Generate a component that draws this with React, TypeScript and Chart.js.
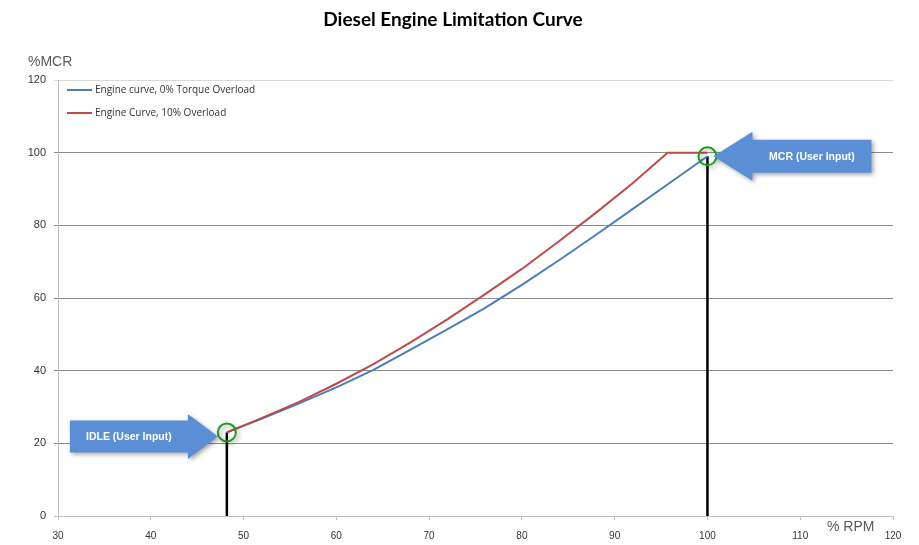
import React, { useEffect, useRef } from "react";
import { Chart, registerables } from "chart.js";

Chart.register(...registerables);

const TITLE = "Diesel Engine Limitation Curve";
const X_TITLE = "% RPM";
const Y_TITLE = "%MCR";
const SERIES_NAMES = ["Engine curve, 0% Torque Overload", "Engine Curve, 10% Overload"];
const SERIES_COLORS = ["#4a7ebb", "#be4b48"];

const BASE_RPM = [48.2, 52, 56, 60, 64, 68, 72, 76, 80, 84, 88, 92, 96, 100];
const BASE_LOAD = [23, 26.8, 31, 35.4, 40.2, 45.8, 51.4, 57.2, 63.6, 70.4, 77.4, 84.6, 91.8, 99];
const OVER_RPM = [48.2, 52, 56, 60, 64, 68, 72, 76, 80, 84, 88, 92, 95.7, 100];
const OVER_LOAD = [23, 27, 31.4, 36.4, 41.8, 47.8, 54.2, 61, 68, 75.6, 83.5, 91.7, 100, 100];

const IDLE_POINT = [48.2, 23];
const MCR_POINT = [100, 99];
const MARKER_LABELS = ["IDLE (User Input)", "MCR (User Input)"];

const X_MIN = 30;
const X_MAX = 120;
const X_STEP = 10;
const Y_MIN = 0;
const Y_MAX = 120;
const Y_STEP = 20;

const toXY = (xs: number[], ys: number[]) => xs.map((x, i) => ({ x, y: ys[i] }));

function drawArrow(
  ctx: CanvasRenderingContext2D,
  tipX: number,
  tipY: number,
  dir: number,
  length: number,
  headLen: number,
  bodyHalf: number,
  headHalf: number,
  label: string
) {
  const baseX = tipX - dir * length;
  const headBaseX = tipX - dir * headLen;
  ctx.save();
  ctx.shadowColor = "rgba(0,0,0,0.35)";
  ctx.shadowBlur = 4;
  ctx.shadowOffsetX = 2;
  ctx.shadowOffsetY = 2;
  ctx.fillStyle = "#5a8fd5";
  ctx.beginPath();
  ctx.moveTo(baseX, tipY - bodyHalf);
  ctx.lineTo(headBaseX, tipY - bodyHalf);
  ctx.lineTo(headBaseX, tipY - headHalf);
  ctx.lineTo(tipX, tipY);
  ctx.lineTo(headBaseX, tipY + headHalf);
  ctx.lineTo(headBaseX, tipY + bodyHalf);
  ctx.lineTo(baseX, tipY + bodyHalf);
  ctx.closePath();
  ctx.fill();
  ctx.restore();
  ctx.save();
  ctx.fillStyle = "#ffffff";
  ctx.font = "bold 10.5px 'Liberation Sans', Arial, sans-serif";
  ctx.textAlign = "center";
  ctx.textBaseline = "middle";
  ctx.fillText(label, (baseX + headBaseX) / 2, tipY + 1);
  ctx.restore();
}

const decorPlugin = {
  id: "decor",
  beforeDatasetDraw(chart: any, args: any) {
    if (args.meta && args.meta._dataset && args.meta._dataset.isMarker) {
      const ctx = chart.ctx;
      ctx.save();
      ctx.shadowColor = "rgba(0,0,0,0.35)";
      ctx.shadowBlur = 4;
      ctx.shadowOffsetX = 2;
      ctx.shadowOffsetY = 2;
    }
  },
  afterDatasetDraw(chart: any, args: any) {
    if (args.meta && args.meta._dataset && args.meta._dataset.isMarker) {
      chart.ctx.restore();
    }
  },
  afterDraw(chart: any) {
    const ctx = chart.ctx as CanvasRenderingContext2D;
    const xs = chart.scales.x;
    const ys = chart.scales.y;
    const area = chart.chartArea;

    // Title
    ctx.save();
    ctx.fillStyle = "#000000";
    ctx.font = "bold 19px Lato, 'Open Sans', sans-serif";
    ctx.textAlign = "center";
    ctx.textBaseline = "middle";
    ctx.fillText(TITLE, 453, 20);
    ctx.restore();

    // Axis titles
    ctx.save();
    ctx.fillStyle = "#595959";
    ctx.font = "14px 'Liberation Sans', Arial, sans-serif";
    ctx.textBaseline = "middle";
    ctx.textAlign = "left";
    ctx.fillText(Y_TITLE, area.left - 30, area.top - 18);
    ctx.fillText(X_TITLE, area.right - 66, area.bottom + 11);
    ctx.restore();

    // Legend
    ctx.save();
    ctx.font = "10px 'Open Sans', sans-serif";
    ctx.textBaseline = "middle";
    ctx.textAlign = "left";
    SERIES_NAMES.forEach((name, i) => {
      const y = area.top + 10 + i * 23;
      ctx.strokeStyle = SERIES_COLORS[i];
      ctx.lineWidth = 2;
      ctx.beginPath();
      ctx.moveTo(area.left + 9, y);
      ctx.lineTo(area.left + 34, y);
      ctx.stroke();
      ctx.fillStyle = "#333333";
      ctx.fillText(name, area.left + 37, y);
    });
    ctx.restore();

    // Arrows
    const ix = xs.getPixelForValue(IDLE_POINT[0]);
    const iy = ys.getPixelForValue(IDLE_POINT[1]);
    drawArrow(ctx, ix - 9, iy + 4, 1, 148, 30, 16, 22.5, MARKER_LABELS[0]);
    const mx = xs.getPixelForValue(MCR_POINT[0]);
    const my = ys.getPixelForValue(MCR_POINT[1]);
    drawArrow(ctx, mx + 6, my, -1, 158, 39, 16.5, 24.5, MARKER_LABELS[1]);
  },
};

export default function App() {
  const canvasRef = useRef<HTMLCanvasElement | null>(null);

  useEffect(() => {
    if (!canvasRef.current) return;
    const chart = new Chart(canvasRef.current, {
      type: "scatter",
      data: {
        datasets: [
          {
            label: SERIES_NAMES[0],
            data: toXY(BASE_RPM, BASE_LOAD),
            showLine: true,
            borderColor: SERIES_COLORS[0],
            backgroundColor: SERIES_COLORS[0],
            borderWidth: 2,
            pointRadius: 0,
            tension: 0,
            order: 2,
          },
          {
            label: SERIES_NAMES[1],
            data: toXY(OVER_RPM, OVER_LOAD),
            showLine: true,
            borderColor: SERIES_COLORS[1],
            backgroundColor: SERIES_COLORS[1],
            borderWidth: 2,
            pointRadius: 0,
            tension: 0,
            order: 1,
          },
          {
            label: "idle-line",
            data: [
              { x: IDLE_POINT[0], y: Y_MIN },
              { x: IDLE_POINT[0], y: IDLE_POINT[1] },
            ],
            showLine: true,
            borderColor: "#000000",
            borderWidth: 2.5,
            pointRadius: 0,
            order: 3,
          },
          {
            label: "mcr-line",
            data: [
              { x: MCR_POINT[0], y: Y_MIN },
              { x: MCR_POINT[0], y: MCR_POINT[1] },
            ],
            showLine: true,
            borderColor: "#000000",
            borderWidth: 2.5,
            pointRadius: 0,
            order: 3,
          },
          {
            label: "markers",
            isMarker: true,
            data: [
              { x: IDLE_POINT[0], y: IDLE_POINT[1] },
              { x: MCR_POINT[0], y: MCR_POINT[1] },
            ],
            showLine: false,
            pointStyle: "circle",
            pointRadius: 9,
            borderWidth: 2,
            borderColor: "#1e9a1e",
            backgroundColor: "rgba(0,0,0,0)",
            order: 0,
          } as any,
        ],
      },
      options: {
        animation: false,
        responsive: false,
        maintainAspectRatio: false,
        layout: { padding: { left: 0, right: 26, top: 80, bottom: 0 } },
        plugins: {
          legend: { display: false },
          title: { display: false },
          tooltip: { enabled: false },
        },
        scales: {
          x: {
            type: "linear",
            min: X_MIN,
            max: X_MAX,
            afterFit: (scale: any) => {
              scale.height = 29;
            },
            ticks: {
              stepSize: X_STEP,
              color: "#333333",
              font: { size: 10, family: "'Liberation Sans', Arial, sans-serif" },
              padding: 10,
              maxRotation: 0,
            },
            grid: {
              drawOnChartArea: false,
              drawTicks: true,
              tickLength: 4,
              color: "#bfbfbf",
            },
            border: { display: true, color: "#bfbfbf", width: 1 },
          },
          y: {
            type: "linear",
            min: Y_MIN,
            max: Y_MAX,
            afterFit: (scale: any) => {
              scale.width = 58;
            },
            ticks: {
              stepSize: Y_STEP,
              color: "#333333",
              font: { size: 11, family: "'Liberation Sans', Arial, sans-serif" },
              padding: 8,
            },
            grid: {
              drawTicks: true,
              tickLength: 4,
              color: (c: any) => {
                const v = c.tick ? c.tick.value : 0;
                if (v === Y_MAX) return "#d9d9d9";
                if (v === Y_MIN) return "#bfbfbf";
                return "#8c8c8c";
              },
              lineWidth: 1,
            },
            border: { display: true, color: "#bfbfbf", width: 1 },
          },
        },
      },
      plugins: [decorPlugin],
    } as any);
    return () => chart.destroy();
  }, []);

  return (
    <div style={{ position: "fixed", left: 0, top: 0, width: 919, height: 545, background: "#ffffff" }}>
      <canvas ref={canvasRef} width={919} height={545} style={{ width: 919, height: 545 }} />
    </div>
  );
}
